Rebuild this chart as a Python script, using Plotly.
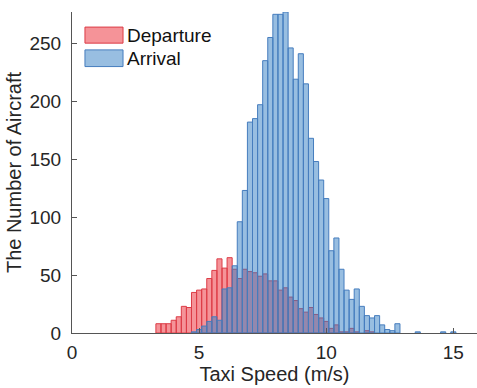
import plotly.graph_objects as go

# Bin centers (m/s), bin width 0.2
dep_speed = [3.4, 3.6, 3.8, 4.0, 4.2, 4.4, 4.6, 4.8, 5.0, 5.2, 5.4, 5.6, 5.8, 6.0, 6.2, 6.4,
             6.6, 6.8, 7.0, 7.2, 7.4, 7.6, 7.8, 8.0, 8.2, 8.4, 8.6, 8.8, 9.0, 9.2, 9.4,
             9.6, 9.8, 10.0, 10.2, 10.4, 10.6, 10.8, 11.0, 11.2, 11.6, 11.8]
dep_count = [8, 8, 8, 11, 14, 23, 22, 35, 37, 38, 47, 54, 64, 56, 65, 55,
             47, 55, 53, 52, 49, 51, 45, 45, 37, 39, 31, 28, 21, 18, 22,
             16, 13, 10, 4, 7, 1, 1, 4, 1, 2, 1]

arr_speed = [4.8, 5.0, 5.2, 5.4, 5.6, 5.8, 6.0, 6.2, 6.4, 6.6, 6.8, 7.0, 7.2, 7.4, 7.6,
             7.8, 8.0, 8.2, 8.4, 8.6, 8.8, 9.0, 9.2, 9.4, 9.6, 9.8, 10.0, 10.2, 10.4,
             10.6, 10.8, 11.0, 11.2, 11.4, 11.6, 11.8, 12.0, 12.2, 12.4, 12.6, 12.8,
             13.6, 14.6, 15.0]
arr_count = [1, 3, 6, 10, 14, 11, 38, 39, 58, 96, 123, 182, 185, 197, 235,
             255, 275, 275, 277, 246, 219, 241, 215, 168, 148, 132, 116, 71, 82,
             55, 37, 29, 38, 23, 15, 13, 15, 7, 3, 2, 8,
             1, 1, 1]

bin_width = 0.2
x_ticks = [0, 5, 10, 15]
y_ticks = [0, 50, 100, 150, 200, 250]
series_names = ["Departure", "Arrival"]

FONT = "Liberation Sans, Arial, sans-serif"
TXT = "#262626"
DEP_FILL, DEP_EDGE = "rgba(236,40,50,0.5)", "rgb(220,60,70)"
ARR_FILL, ARR_EDGE = "rgba(50,125,195,0.5)", "rgb(70,125,190)"

fig = go.Figure()
fig.add_trace(go.Bar(
    x=dep_speed, y=dep_count, width=bin_width, name=series_names[0],
    marker=dict(color=DEP_FILL, line=dict(color=DEP_EDGE, width=1)),
    showlegend=False,
))
fig.add_trace(go.Bar(
    x=arr_speed, y=arr_count, width=bin_width, name=series_names[1],
    marker=dict(color=ARR_FILL, line=dict(color=ARR_EDGE, width=1)),
    showlegend=False,
))

# Legend drawn as swatches + text
legend_items = [(series_names[0], DEP_FILL, DEP_EDGE, 0.903, 0.953),
                (series_names[1], ARR_FILL, ARR_EDGE, 0.830, 0.882)]
shapes = []
annotations = []
for name, fill, edge, y0, y1 in legend_items:
    shapes.append(dict(type="rect", xref="paper", yref="paper", x0=0.032, x1=0.126,
                       y0=y0, y1=y1, fillcolor=fill, line=dict(color=edge, width=1)))
    annotations.append(dict(xref="paper", yref="paper", x=0.131, y=(y0 + y1) / 2,
                            text=name, showarrow=False, xanchor="left", yanchor="middle",
                            font=dict(family=FONT, size=19, color="#111111")))

fig.update_layout(
    width=477, height=388,
    margin=dict(l=72, r=0, t=12, b=55),
    barmode="overlay",
    plot_bgcolor="white", paper_bgcolor="white",
    font=dict(family=FONT, size=19, color=TXT),
    shapes=shapes, annotations=annotations,
    xaxis=dict(range=[0, 15.93], tickvals=x_ticks, ticks="inside", ticklen=5,
               tickcolor="#555555", showline=True, linecolor="#555555", linewidth=1,
               showgrid=False, zeroline=False, ticklabelstandoff=2, automargin=False,
               title=dict(text="Taxi Speed (m/s)", font=dict(size=20, color=TXT), standoff=0)),
    yaxis=dict(range=[0, 277], tickvals=y_ticks, ticks="inside", ticklen=5,
               tickcolor="#555555", showline=True, linecolor="#555555", linewidth=1,
               showgrid=False, zeroline=False, ticklabelstandoff=6, automargin=False,
               title=dict(text="The Number of Aircraft", font=dict(size=20, color=TXT), standoff=2)),
)

fig.write_html("out.html", config={"displayModeBar": False},
               post_script="document.body.style.margin='0';document.body.style.overflow='hidden';")
